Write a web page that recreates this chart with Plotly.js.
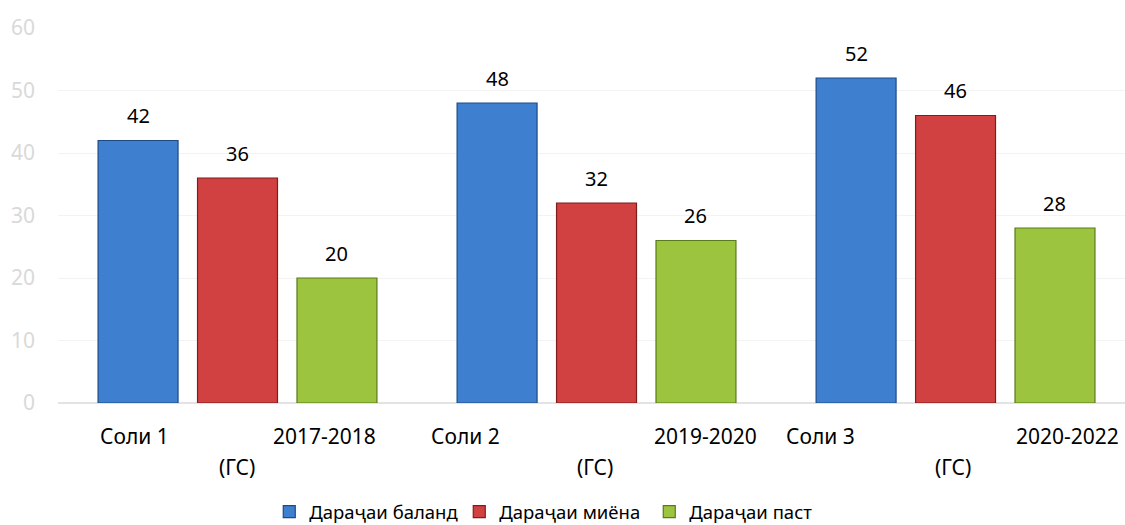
<!DOCTYPE html>
<html>
<head>
<meta charset="utf-8">
<script src="https://cdn.plot.ly/plotly-3.0.1.min.js"></script>
<style>html,body{margin:0;padding:0;background:#fff;}#chart{width:1125px;height:525px;}</style>
</head>
<body>
<div id="chart"></div>
<script>
// ---- data ----
const groupIndex = [0, 1, 2];
const labelStart = ['Соли 1', 'Соли 2', 'Соли 3'];
const labelMiddle = ['(ГС)', '(ГС)', '(ГС)'];
const labelEnd = ['2017-2018', '2019-2020', '2020-2022'];
const seriesNames = ['Дараҷаи баланд', 'Дараҷаи миёна', 'Дараҷаи паст'];
const highValues = [42, 48, 52];
const midValues = [36, 32, 46];
const lowValues = [20, 26, 28];
const yTickValues = [0, 10, 20, 30, 40, 50, 60];

// ---- styling ----
const FONT = 'Noto Sans, Open Sans, sans-serif';
const fillColors = ['#3f7fcf', '#d24141', '#9cc43e'];
const edgeColors = ['#1d4a85', '#7f1d1d', '#5a7a1c'];
const seriesValues = [highValues, midValues, lowValues];
const bargap = 0.169;
const nSeries = seriesValues.length;
const slot = (1 - bargap) / nSeries;

const traces = seriesValues.map((vals, j) => ({
  type: 'bar',
  name: seriesNames[j],
  x: groupIndex,
  y: vals,
  marker: {color: fillColors[j], line: {color: edgeColors[j], width: 1.2}},
  hoverinfo: 'skip'
}));

const annotations = [];
// value labels above bars
seriesValues.forEach((vals, j) => {
  vals.forEach((v, i) => {
    annotations.push({
      x: groupIndex[i] + (j - (nSeries - 1) / 2) * slot,
      y: v, xref: 'x', yref: 'y',
      text: String(v), showarrow: false,
      yanchor: 'middle', yshift: 25,
      font: {family: FONT, size: 20, color: '#000'}
    });
  });
});
// wrapped category labels (justified like the original)
const startShift = [-140, -168, -172];
const endShift = [140, 162, 165];
const midShift = [-1, -2, -3];
groupIndex.forEach((g, i) => {
  annotations.push({x: g, y: 0, xref: 'x', yref: 'y', yanchor: 'middle', yshift: -33,
    xanchor: 'left', xshift: startShift[i], text: labelStart[i], showarrow: false,
    font: {family: FONT, size: 21, color: '#000'}});
  annotations.push({x: g, y: 0, xref: 'x', yref: 'y', yanchor: 'middle', yshift: -33,
    xanchor: 'right', xshift: endShift[i], text: labelEnd[i], showarrow: false,
    font: {family: FONT, size: 21, color: '#000'}});
  annotations.push({x: g, y: 0, xref: 'x', yref: 'y', yanchor: 'middle', yshift: -64,
    xanchor: 'center', xshift: midShift[i], text: labelMiddle[i], showarrow: false,
    font: {family: FONT, size: 21, color: '#000'}});
});

const layout = {
  width: 1125, height: 525,
  margin: {l: 58, r: 0, t: 28, b: 122, autoexpand: false},
  paper_bgcolor: '#fff', plot_bgcolor: '#fff',
  barmode: 'group', bargap: bargap, bargroupgap: 0.196,
  font: {family: FONT},
  xaxis: {
    range: [-0.5, 2.472], showticklabels: false, showgrid: false,
    zeroline: false, showline: false, fixedrange: true, automargin: false
  },
  yaxis: {
    range: [0, 60], tickvals: yTickValues, showgrid: true,
    gridcolor: '#f3f3f3', gridwidth: 1,
    zeroline: true, zerolinecolor: '#e3e3e3', zerolinewidth: 1.5,
    showline: false, ticklabelstandoff: 22, automargin: false,
    tickfont: {family: FONT, size: 21, color: '#d9d9d9'}, fixedrange: true
  },
  showlegend: true,
  legend: {
    orientation: 'h', x: 0.198, xanchor: 'left', y: -0.291, yanchor: 'middle',
    entrywidth: 145, entrywidthmode: 'pixels',
    font: {family: FONT, size: 18.5, color: '#000'}, traceorder: 'normal'
  },
  annotations: annotations
};

Plotly.newPlot('chart', traces, layout, {displayModeBar: false, staticPlot: true});
</script>
</body>
</html>
